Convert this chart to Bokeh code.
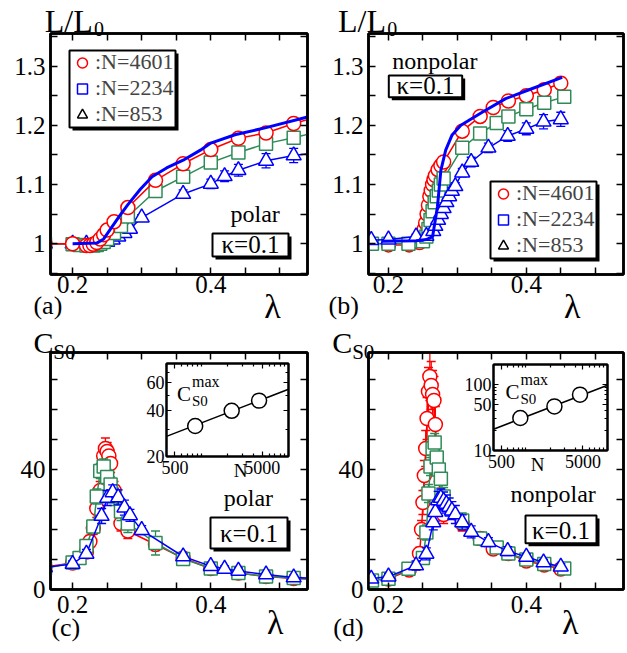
import math
from bokeh.plotting import figure
from bokeh.models import (Range1d, LinearAxis, LogAxis, FixedTicker, CustomJSTickFormatter,
                          Label, BoxAnnotation, Legend, LegendItem, ColumnDataSource)
from bokeh.layouts import row, column
from bokeh.embed import file_html
from bokeh.resources import INLINE

FONT = "Liberation Serif"
RED, GREEN, BLUE, BLACK = "#ff0000", "#2e8b57", "#0000ff", "#000000"
NAN = float("nan")

# ---------------- data ----------------
# (a) polar  L/L0 vs lambda
a_red_lam = [0.16, 0.20, 0.22, 0.225, 0.23, 0.235, 0.24, 0.245, 0.25, 0.26, 0.28, 0.32, 0.36, 0.40, 0.44, 0.48, 0.52, 0.56]
a_red_L = [1.000, 1.000, 0.997, 0.997, 0.999, 1.002, 1.008, 1.015, 1.023, 1.037, 1.061, 1.107, 1.135, 1.159, 1.178, 1.187, 1.203, 1.216]
a_red_err = [0.003, 0.003, 0.003, 0.003, 0.003, 0.003, 0.004, 0.004, 0.004, 0.005, 0.006, 0.007, 0.008, 0.008, 0.008, 0.009, 0.010, 0.010]
a_grn_lam = [0.16, 0.20, 0.21, 0.22, 0.23, 0.235, 0.24, 0.245, 0.25, 0.26, 0.27, 0.28, 0.32, 0.36, 0.40, 0.44, 0.48, 0.52, 0.56]
a_grn_L = [1.000, 0.999, 0.998, 0.997, 0.997, 0.998, 1.000, 1.003, 1.008, 1.018, 1.030, 1.046, 1.089, 1.113, 1.137, 1.154, 1.169, 1.179, 1.190]
a_grn_err = [0.003, 0.003, 0.003, 0.003, 0.003, 0.003, 0.003, 0.003, 0.004, 0.004, 0.004, 0.005, 0.005, 0.005, 0.005, 0.006, 0.006, 0.006, 0.006]
a_blu_lam = [0.16, 0.20, 0.22, 0.242, 0.25, 0.258, 0.266, 0.275, 0.283, 0.30, 0.36, 0.40, 0.42, 0.44, 0.48, 0.52, 0.56]
a_blu_L = [1.000, 1.000, 1.000, 1.001, 1.003, 1.007, 1.012, 1.018, 1.025, 1.044, 1.084, 1.101, 1.114, 1.124, 1.140, 1.149, 1.155]
a_blu_err = [0.003, 0.003, 0.003, 0.003, 0.004, 0.004, 0.004, 0.005, 0.005, 0.005, 0.007, 0.008, 0.009, 0.010, 0.012, 0.012, 0.012]
a_curve_lam = [0.20, 0.235, 0.245, 0.255, 0.268, 0.28, 0.298, 0.315, 0.336, 0.36, 0.385, 0.40, 0.435, 0.48, 0.54]
a_curve_L = [1.000, 1.001, 1.008, 1.025, 1.047, 1.066, 1.092, 1.113, 1.128, 1.141, 1.158, 1.170, 1.184, 1.196, 1.214]

# (b) nonpolar  L/L0 vs lambda
np_red_lam = [0.20, 0.23, 0.245, 0.248, 0.25, 0.252, 0.254, 0.256, 0.258, 0.26, 0.262, 0.264, 0.266, 0.268, 0.272, 0.276, 0.28, 0.307, 0.333, 0.352, 0.374, 0.40, 0.426, 0.45]
b_red_L = [0.998, 0.998, 1.002, 1.008, 1.015, 1.025, 1.035, 1.050, 1.065, 1.080, 1.090, 1.100, 1.108, 1.115, 1.125, 1.132, 1.138, 1.190, 1.215, 1.230, 1.241, 1.250, 1.260, 1.271]
b_red_err = [0.003, 0.003, 0.004, 0.005, 0.006, 0.007, 0.008, 0.008, 0.008, 0.008, 0.008, 0.008, 0.008, 0.008, 0.008, 0.008, 0.008, 0.008, 0.008, 0.008, 0.009, 0.009, 0.010, 0.010]
np_grn_lam = [0.176, 0.20, 0.229, 0.25, 0.255, 0.258, 0.261, 0.264, 0.267, 0.27, 0.273, 0.276, 0.28, 0.307, 0.333, 0.357, 0.374, 0.40, 0.426, 0.455]
b_grn_L = [1.000, 1.000, 1.000, 1.004, 1.012, 1.025, 1.040, 1.055, 1.070, 1.080, 1.090, 1.100, 1.110, 1.162, 1.186, 1.204, 1.215, 1.227, 1.238, 1.248]
b_grn_err = [0.003, 0.003, 0.003, 0.003, 0.004, 0.004, 0.004, 0.004, 0.004, 0.004, 0.004, 0.004, 0.005, 0.005, 0.005, 0.005, 0.005, 0.005, 0.006, 0.006]
np_blu_lam = [0.175, 0.20, 0.24, 0.255, 0.265, 0.268, 0.272, 0.276, 0.28, 0.284, 0.288, 0.292, 0.297, 0.307, 0.32, 0.345, 0.373, 0.40, 0.425, 0.45]
b_blu_L = [1.006, 1.007, 1.012, 1.013, 1.021, 1.030, 1.040, 1.050, 1.060, 1.070, 1.080, 1.089, 1.097, 1.120, 1.138, 1.162, 1.182, 1.194, 1.206, 1.210]
b_blu_err = [0.003, 0.003, 0.004, 0.005, 0.006, 0.006, 0.006, 0.006, 0.006, 0.006, 0.006, 0.006, 0.006, 0.007, 0.008, 0.008, 0.009, 0.010, 0.012, 0.012]
b_curve_lam = [0.19, 0.24, 0.255, 0.264, 0.271, 0.276, 0.283, 0.292, 0.305, 0.336, 0.37, 0.404, 0.452]
b_curve_L = [1.004, 1.005, 1.007, 1.012, 1.062, 1.124, 1.158, 1.183, 1.200, 1.222, 1.245, 1.260, 1.281]

# (c) polar  C_S0 vs lambda
c_red_lam = [0.16, 0.20, 0.22, 0.225, 0.23, 0.235, 0.24, 0.245, 0.2475, 0.25, 0.2525, 0.255, 0.26, 0.27, 0.28, 0.32, 0.36, 0.40, 0.44, 0.48, 0.52, 0.56]
c_red_C = [7.5, 8.8, 12.5, 16.0, 20.5, 27.0, 33.0, 44.5, 47.0, 46.0, 44.5, 42.0, 33.0, 22.0, 19.5, 15.0, 10.5, 7.0, 5.5, 4.3, 3.7, 3.3]
c_red_err = [1.0, 1.0, 1.5, 2.0, 2.0, 3.0, 3.0, 3.0, 3.5, 3.0, 3.0, 3.0, 3.0, 2.5, 2.5, 2.0, 1.5, 1.0, 1.0, 1.0, 1.0, 1.0]
c_grn_lam = [0.16, 0.20, 0.21, 0.22, 0.23, 0.235, 0.24, 0.245, 0.25, 0.255, 0.26, 0.27, 0.28, 0.32, 0.36, 0.40, 0.44, 0.48, 0.52, 0.56]
c_grn_C = [7.0, 9.0, 10.5, 14.5, 21.0, 31.0, 39.5, 41.0, 37.5, 35.0, 31.0, 26.0, 22.0, 15.5, 10.2, 7.0, 5.5, 4.3, 3.8, 3.3]
c_grn_err = [1.0, 1.0, 1.0, 1.5, 2.0, 2.5, 2.5, 2.5, 2.5, 2.5, 3.0, 3.0, 3.0, 4.0, 2.0, 1.5, 1.0, 1.0, 1.0, 1.0]
c_blu_lam = [0.16, 0.20, 0.22, 0.242, 0.25, 0.258, 0.266, 0.275, 0.283, 0.30, 0.36, 0.40, 0.42, 0.44, 0.48, 0.52, 0.56]
c_blu_C = [7.4, 8.5, 11.9, 24.5, 30.5, 32.4, 30.7, 27.3, 24.7, 19.8, 11.0, 7.8, 6.9, 6.2, 5.0, 4.0, 3.6]
c_blu_err = [1.0, 1.0, 1.5, 2.5, 2.5, 2.5, 2.5, 2.5, 2.0, 1.5, 1.0, 1.0, 1.0, 1.0, 0.8, 0.8, 0.8]

# (d) nonpolar  C_S0 vs lambda
d_red_C = [3.5, 6.5, 12.0, 20.0, 29.0, 38.0, 47.0, 57.0, 66.0, 71.0, 68.0, 65.0, 63.0, 55.0, 40.0, 28.0, 25.0, 22.0, 17.0, 13.5, 12.0, 9.5, 8.2, 6.8]
d_red_err = [1.0, 1.0, 2.0, 3.0, 4.0, 5.0, 6.0, 7.0, 8.0, 8.0, 8.0, 8.0, 8.0, 6.0, 4.0, 3.0, 3.0, 2.5, 2.0, 1.5, 1.5, 1.0, 1.0, 1.0]
d_grn_C = [3.0, 3.6, 6.9, 10.5, 19.0, 32.0, 41.0, 47.0, 49.0, 44.0, 40.0, 36.9, 31.0, 23.0, 17.0, 14.0, 12.0, 10.0, 8.5, 7.0]
d_grn_err = [1.0, 1.0, 1.5, 2.0, 2.5, 3.0, 3.0, 3.0, 3.0, 3.0, 3.0, 3.0, 3.0, 2.5, 2.0, 1.5, 1.5, 1.0, 1.0, 1.0]
d_blu_C = [3.6, 4.3, 8.0, 11.9, 22.4, 25.8, 29.7, 30.5, 29.5, 28.5, 27.5, 26.3, 25.0, 22.4, 19.2, 15.8, 12.8, 10.9, 9.0, 7.6]
d_blu_err = [1.0, 1.0, 1.5, 2.0, 2.5, 3.0, 3.0, 3.0, 3.0, 3.0, 3.0, 3.0, 3.0, 2.5, 2.0, 1.5, 1.5, 1.0, 1.0, 1.0]

# insets: C_S0^max vs N
inset_N = [853, 2234, 4601]
cmax_polar = [31.5, 39.5, 46.0]
cmax_polar_err = [1.5, 1.5, 2.0]
cmax_nonpolar = [31.0, 46.5, 70.0]
cmax_nonpolar_err = [1.5, 2.0, 3.0]
fit_N = [400, 10000]
fit_polar = [27.0, 54.5]
fit_nonpolar = [21.0, 97.0]

legend_labels = [":N=4601", ":N=2234", ":N=853"]

X_MAJOR = [0.2, 0.4]
X_MINOR = [0.25, 0.3, 0.35, 0.45, 0.5]
YL_MAJOR = [1.0, 1.1, 1.2, 1.3]
YL_MINOR = [0.95, 1.05, 1.15, 1.25, 1.35]
YC_MAJOR = [0, 40]
YC_MINOR = [10, 20, 30, 50, 60, 70]
N_MAJOR = [500, 5000]
N_MINOR = [400, 600, 700, 800, 900, 1000, 2000, 3000, 4000, 6000, 7000, 8000, 9000, 10000]

# ---------------- layout geometry (page pixels, origin at top-left) ----------------
PAGE_W, PAGE_H = 626, 652
FR = {
    "a": dict(fx=50, fy=33, fw=257, fh=241, xr=(0.168, 0.540), yr=(0.948, 1.355)),
    "b": dict(fx=368, fy=33, fw=255, fh=241, xr=(0.171, 0.541), yr=(0.948, 1.355)),
    "c": dict(fx=50, fy=352, fw=257, fh=237, xr=(0.168, 0.540), yr=(0.0, 79.0)),
    "d": dict(fx=368, fy=352, fw=255, fh=237, xr=(0.171, 0.541), yr=(0.0, 79.0)),
}
IN = {
    "c": dict(fx=166, fy=363, fw=122, fh=93, xr=(400, 10000), yr=(20, 80)),
    "d": dict(fx=493, fy=364, fw=114, fh=86, xr=(400, 10000), yr=(10, 200)),
}


def dx(k, px):
    f = FR[k]
    return f["xr"][0] + (px - f["fx"]) / f["fw"] * (f["xr"][1] - f["xr"][0])


def dy(k, py):
    f = FR[k]
    return f["yr"][1] - (py - f["fy"]) / f["fh"] * (f["yr"][1] - f["yr"][0])


def ix(k, px):
    f = IN[k]
    a, b = math.log10(f["xr"][0]), math.log10(f["xr"][1])
    return 10 ** (a + (px - f["fx"]) / f["fw"] * (b - a))


def iy(k, py):
    f = IN[k]
    a, b = math.log10(f["yr"][0]), math.log10(f["yr"][1])
    return 10 ** (b - (py - f["fy"]) / f["fh"] * (b - a))


FMT_NUM = "return (Math.round(tick*1000)/1000).toString();"
FMT_NONE = "return '';"


def style_axis(ax, major, minor, labels, standoff, size="25px", tick=7, mtick=7, lw=2.5, tw=1.5):
    ax.ticker = FixedTicker(ticks=major, minor_ticks=minor)
    ax.formatter = CustomJSTickFormatter(code=FMT_NUM if labels else FMT_NONE)
    ax.major_tick_in = tick
    ax.major_tick_out = 0
    ax.minor_tick_in = mtick
    ax.minor_tick_out = 0
    ax.major_tick_line_width = tw
    ax.minor_tick_line_width = tw
    ax.major_tick_line_color = "black"
    ax.minor_tick_line_color = "black"
    ax.axis_line_width = lw
    ax.axis_line_color = "black"
    ax.major_label_text_font = FONT
    ax.major_label_text_font_size = size if labels else "1px"
    ax.major_label_text_color = "black"
    ax.major_label_standoff = standoff


def make_main(k, mbl, mbr, mbt, mbb, ymaj, ymin, xstand):
    f = FR[k]
    p = figure(width=mbl + f["fw"] + mbr, height=mbt + f["fh"] + mbb,
               x_range=Range1d(*f["xr"]), y_range=Range1d(*f["yr"]),
               output_backend="svg", toolbar_location=None,
               min_border_left=mbl, min_border_right=mbr,
               min_border_top=mbt, min_border_bottom=mbb)
    p.xgrid.visible = False
    p.ygrid.visible = False
    p.outline_line_color = "black"
    p.outline_line_width = 2.5
    p.background_fill_color = "white"
    p.border_fill_color = "white"
    top, right = LinearAxis(), LinearAxis()
    p.add_layout(top, "above")
    p.add_layout(right, "right")
    style_axis(p.below[0], X_MAJOR, X_MINOR, True, xstand)
    style_axis(top, X_MAJOR, X_MINOR, False, 0)
    style_axis(p.left[0], ymaj, ymin, True, 5)
    style_axis(right, ymaj, ymin, False, 0)
    return p


def series(p, lam, val, err, color, marker, size):
    src = ColumnDataSource(dict(x=lam, y=val,
                                lo=[v - e for v, e in zip(val, err)],
                                hi=[v + e for v, e in zip(val, err)]))
    p.line("x", "y", source=src, line_color=color, line_width=1.5)
    p.segment(x0="x", y0="lo", x1="x", y1="hi", source=src, line_color=color, line_width=1.3)
    p.scatter("x", "lo", source=src, marker="dash", size=9, line_color=color, line_width=1.3)
    p.scatter("x", "hi", source=src, marker="dash", size=9, line_color=color, line_width=1.3)
    p.scatter("x", "y", source=src, marker=marker, size=size, line_color=color,
              fill_color="white", line_width=1.5)


def mid(base, size):
    # vertical middle of a text whose baseline is at `base` (page px)
    return base - 0.33 * size


def text(p, k, px, base, s, size, align="left"):
    p.add_layout(Label(x=dx(k, px), y=dy(k, mid(base, size)), text=s, text_font=FONT,
                       text_font_size=f"{size}px", text_align=align,
                       text_baseline="middle", text_color="black"))


def box(p, k, x0, y0, x1, y1, sh=3):
    p.add_layout(BoxAnnotation(left=dx(k, x0 + sh), right=dx(k, x1 + sh),
                               top=dy(k, y0 + sh), bottom=dy(k, y1 + sh),
                               fill_color="black", fill_alpha=1.0, line_color=None))
    p.add_layout(BoxAnnotation(left=dx(k, x0), right=dx(k, x1), top=dy(k, y0), bottom=dy(k, y1),
                               fill_color="white", fill_alpha=1.0, line_color="black",
                               line_alpha=1.0, line_width=2))


def legend(p, k, left, top):
    W, H = 106, 77
    f = FR[k]
    box(p, k, left, top, left + W, top + H)
    rc = p.scatter(x=[NAN], y=[NAN], marker="circle", size=14, line_color=RED, fill_color="white", line_width=1.5)
    rs = p.scatter(x=[NAN], y=[NAN], marker="square", size=14, line_color=BLUE, fill_color="white", line_width=1.5)
    rt = p.scatter(x=[NAN], y=[NAN], marker="triangle", size=14, line_color=BLACK, fill_color="white", line_width=1.5)
    lg = Legend(items=[LegendItem(label=legend_labels[0], renderers=[rc]),
                       LegendItem(label=legend_labels[1], renderers=[rs]),
                       LegendItem(label=legend_labels[2], renderers=[rt])],
                location=(left - f["fx"], f["fy"] + f["fh"] - (top + H)),
                orientation="vertical", padding=1, spacing=0, margin=0,
                glyph_width=26, glyph_height=25, label_height=25, label_standoff=0,
                label_text_font=FONT, label_text_font_size="22px",
                border_line_color=None, background_fill_alpha=0.0)
    p.add_layout(lg)


def kappa(p, k, x0, y0, x1, y1, base):
    box(p, k, x0, y0, x1, y1)
    text(p, k, (x0 + x1) / 2, base, "κ=0.1", 25, align="center")


# ---------------- panel (a) ----------------
pa = make_main("a", 50, 13, 33, 46, YL_MAJOR, YL_MINOR, 1)
series(pa, a_blu_lam, a_blu_L, a_blu_err, BLUE, "triangle", 15)
series(pa, a_grn_lam, a_grn_L, a_grn_err, GREEN, "square", 13)
series(pa, a_red_lam, a_red_L, a_red_err, RED, "circle", 14)
pa.line(a_curve_lam, a_curve_L, line_color=BLUE, line_width=3)
legend(pa, "a", 69, 50)
text(pa, "a", 230, 221.7, "polar", 24)
kappa(pa, "a", 212, 233, 288, 256, 252)

# ---------------- panel (b) ----------------
pb = make_main("b", 48, 3, 33, 46, YL_MAJOR, YL_MINOR, 1)
series(pb, np_red_lam, b_red_L, b_red_err, RED, "circle", 14)
series(pb, np_grn_lam, b_grn_L, b_grn_err, GREEN, "square", 13)
series(pb, np_blu_lam, b_blu_L, b_blu_err, BLUE, "triangle", 15)
pb.line(b_curve_lam, b_curve_L, line_color=BLUE, line_width=3)
legend(pb, "b", 490, 181)
text(pb, "b", 391.7, 68.3, "nonpolar", 24)
kappa(pb, "b", 388.3, 75, 461.7, 96.7, 93)

# ---------------- panel (c) ----------------
pc = make_main("c", 50, 13, 32, 63, YC_MAJOR, YC_MINOR, 6)
series(pc, c_red_lam, c_red_C, c_red_err, RED, "circle", 14)
series(pc, c_grn_lam, c_grn_C, c_grn_err, GREEN, "square", 13)
series(pc, c_blu_lam, c_blu_C, c_blu_err, BLUE, "triangle", 15)
text(pc, "c", 223.3, 505, "polar", 24)
kappa(pc, "c", 210, 517, 287, 548, 541)

# ---------------- panel (d) ----------------
pd = make_main("d", 48, 3, 32, 63, YC_MAJOR, YC_MINOR, 6)
series(pd, np_red_lam, d_red_C, d_red_err, RED, "circle", 14)
series(pd, np_grn_lam, d_grn_C, d_grn_err, GREEN, "square", 13)
series(pd, np_blu_lam, d_blu_C, d_blu_err, BLUE, "triangle", 15)
text(pd, "d", 510, 501.7, "nonpolar", 24)
kappa(pd, "d", 525, 515, 596, 542.7, 538)


# ---------------- insets ----------------
def make_inset(k, ymaj, ymin, cvals, cerr, fitc, clabel_x, clabel_base):
    f = IN[k]
    mbl, mbr, mbt, mbb = 32, 2, 2, 26
    p = figure(width=mbl + f["fw"] + mbr, height=mbt + f["fh"] + mbb,
               x_axis_type="log", y_axis_type="log",
               x_range=Range1d(*f["xr"]), y_range=Range1d(*f["yr"]),
               output_backend="svg", toolbar_location=None,
               min_border_left=mbl, min_border_right=mbr,
               min_border_top=mbt, min_border_bottom=mbb)
    p.xgrid.visible = False
    p.ygrid.visible = False
    p.outline_line_color = "black"
    p.outline_line_width = 2
    p.background_fill_color = "white"
    p.border_fill_color = None
    top, right = LogAxis(), LogAxis()
    p.add_layout(top, "above")
    p.add_layout(right, "right")
    kw = dict(size="18px", tick=5, mtick=3, lw=2, tw=1.2)
    style_axis(p.below[0], N_MAJOR, N_MINOR, True, 4, **kw)
    style_axis(top, N_MAJOR, N_MINOR, False, 0, **kw)
    style_axis(p.left[0], ymaj, ymin, True, 2, **kw)
    style_axis(right, ymaj, ymin, False, 0, **kw)
    p.line(fit_N, fitc, line_color="black", line_width=1.5)
    src = ColumnDataSource(dict(x=inset_N, y=cvals,
                                lo=[v - e for v, e in zip(cvals, cerr)],
                                hi=[v + e for v, e in zip(cvals, cerr)]))
    p.segment(x0="x", y0="lo", x1="x", y1="hi", source=src, line_color="black", line_width=1.3)
    p.scatter("x", "lo", source=src, marker="dash", size=9, line_color="black", line_width=1.3)
    p.scatter("x", "hi", source=src, marker="dash", size=9, line_color="black", line_width=1.3)
    p.scatter("x", "y", source=src, marker="circle", size=15, line_color="black",
              fill_color="white", line_width=1.5)

    def lab(px, base, s, size):
        p.add_layout(Label(x=ix(k, px), y=iy(k, mid(base, size)), text=s, text_font=FONT,
                           text_font_size=f"{size}px", text_align="left",
                           text_baseline="middle", text_color="black"))
    lab(clabel_x, clabel_base, "C", 21)
    lab(clabel_x + 15, clabel_base - 14, "max", 16)
    lab(clabel_x + 15, clabel_base + 5, "S0", 15)
    p.styles = {"position": "absolute",
                "left": f"{f['fx'] - mbl}px",
                "top": f"{f['fy'] - mbt}px",
                "z-index": "10"}
    return p


ic = make_inset("c", [20, 40, 60], [30, 50, 70], cmax_polar, cmax_polar_err, fit_polar, 176.5, 400)
idn = make_inset("d", [10, 50, 100], [20, 30, 40, 60, 70, 80, 90, 200], cmax_nonpolar,
                 cmax_nonpolar_err, fit_nonpolar, 505, 398)

# ---------------- transparent overlay for texts that sit outside the frames ----------------
ov = figure(width=PAGE_W, height=PAGE_H, x_range=Range1d(0, PAGE_W), y_range=Range1d(PAGE_H, 0),
            output_backend="svg", toolbar_location=None, min_border=0,
            x_axis_location=None, y_axis_location=None)
ov.xgrid.visible = False
ov.ygrid.visible = False
ov.outline_line_color = None
ov.background_fill_color = None
ov.border_fill_color = None
ov.styles = {"position": "absolute", "left": "0px", "top": "0px", "z-index": "20",
             "pointer-events": "none"}


def otext(px, base, s, size, align="left"):
    ov.add_layout(Label(x=px, y=mid(base, size), text=s, text_font=FONT,
                        text_font_size=f"{size}px", text_align=align,
                        text_baseline="middle", text_color="black"))


# axis titles
otext(13, 31, "L/L", 32)
otext(65, 35, "0", 20)
otext(323, 31, "L/L", 32)
otext(375, 35, "0", 20)
otext(1, 352, "C", 30)
otext(22, 358, "S0", 21)
otext(317, 352, "C", 30)
otext(338, 358, "S0", 21)
# lambda labels
otext(245, 317, "λ", 34)
otext(562, 317, "λ", 34)
otext(248, 633, "λ", 34)
otext(560, 633, "λ", 34)
# panel letters
otext(1, 314, "(a)", 26)
otext(313, 314, "(b)", 26)
otext(20, 636, "(c)", 26)
otext(318, 636, "(d)", 26)
# inset axis titles
otext(220, 476, "N", 19, align="center")
otext(534, 470, "N", 19, align="center")

root = column(row(pa, pb), row(pc, pd), ic, idn, ov)
open("out.html", "w").write(file_html(root, INLINE))
